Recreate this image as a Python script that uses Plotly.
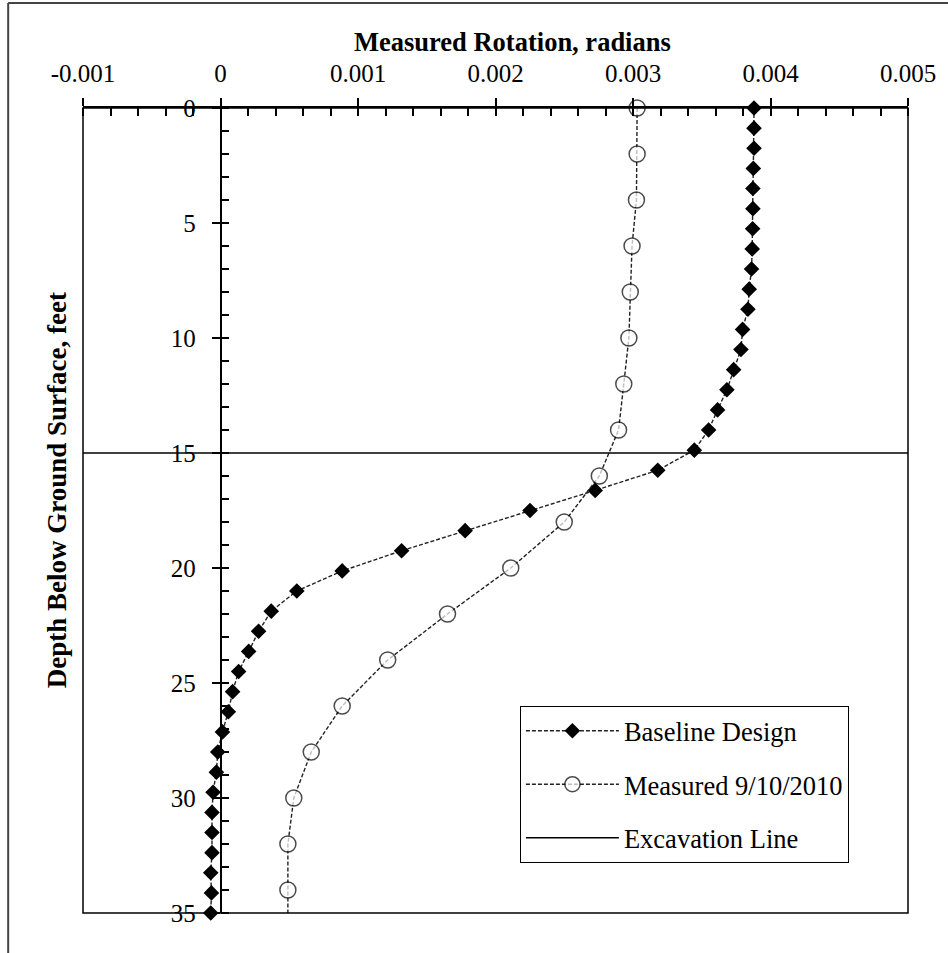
import plotly.graph_objects as go

# ---------------- data ----------------
baseline_depth = [0.0, 0.875, 1.75, 2.625, 3.5, 4.375, 5.25, 6.125, 7.0, 7.875,
                  8.75, 9.625, 10.5, 11.375, 12.25, 13.125, 14.0, 14.875, 15.75, 16.625,
                  17.5, 18.375, 19.25, 20.125, 21.0, 21.875, 22.75, 23.625, 24.5, 25.375,
                  26.25, 27.125, 28.0, 28.875, 29.75, 30.625, 31.5, 32.375, 33.25, 34.125, 35.0]
baseline_rotation = [0.00388, 0.00388, 0.00388, 0.003875, 0.003872, 0.003872, 0.00387, 0.003867,
                     0.003862, 0.003845, 0.003836, 0.003797, 0.003785, 0.003732, 0.003683,
                     0.003615, 0.00355, 0.003446, 0.00318, 0.002725, 0.002251, 0.001779,
                     0.001317, 0.000885, 0.000555, 0.000369, 0.000277, 0.000205, 0.000132,
                     0.000088, 0.000057, 0.000014, -0.00002, -0.00003, -0.000054, -0.000062,
                     -0.000062, -0.000062, -0.000071, -0.000066, -0.000071]

measured_depth = [0, 2, 4, 6, 8, 10, 12, 14, 16, 18, 20, 22, 24, 26, 28, 30, 32, 34, 36]
measured_rotation = [0.00303, 0.00303, 0.003025, 0.002993, 0.00298, 0.00297, 0.002933,
                     0.002895, 0.002755, 0.0025, 0.002111, 0.001651, 0.001216, 0.000885,
                     0.00066, 0.000533, 0.00049, 0.00049, 0.00049]

excavation_rotation = [-0.001, 0.005]
excavation_depth = [15, 15]

x_tick_vals = [-0.001, 0, 0.001, 0.002, 0.003, 0.004, 0.005]
x_tick_text = ["-0.001", "0", "0.001", "0.002", "0.003", "0.004", "0.005"]
y_tick_vals = [0, 5, 10, 15, 20, 25, 30, 35]
y_tick_text = ["0", "5", "10", "15", "20", "25", "30", "35"]

FONT = "Liberation Serif, Times New Roman, serif"

fig = go.Figure()

fig.add_trace(go.Scatter(
    x=baseline_rotation, y=baseline_depth, name="Baseline Design",
    mode="lines+markers", legendgroup="a", cliponaxis=False,
    line=dict(color="#222222", width=1.4, dash="4px,2px"),
    marker=dict(symbol="diamond", size=12, color="black", line=dict(width=0)),
))

msizes = [16] * (len(measured_depth) - 1) + [0]
fig.add_trace(go.Scatter(
    x=measured_rotation, y=measured_depth, name="Measured 9/10/2010",
    mode="lines+markers", legendgroup="b", cliponaxis=False,
    line=dict(color="#222222", width=1.4, dash="4px,2px"),
    marker=dict(symbol="circle", size=msizes, color="white",
                line=dict(color="black", width=1.5)),
))

fig.add_trace(go.Scatter(
    x=excavation_rotation, y=excavation_depth, name="Excavation Line",
    mode="lines", legendgroup="c",
    line=dict(color="black", width=1.5),
))

fig.update_layout(
    width=948, height=953,
    margin=dict(l=83, r=38, t=108, b=40),
    paper_bgcolor="white", plot_bgcolor="white",
    font=dict(family=FONT, size=25, color="black"),
    showlegend=True,
    legend=dict(
        x=0.5296, y=0.2571, xanchor="left", yanchor="top",
        bgcolor="white", bordercolor="black", borderwidth=1,
        font=dict(family=FONT, size=26.5, color="black"),
        traceorder="grouped", tracegroupgap=16, itemwidth=93,
    ),
    xaxis=dict(
        range=[-0.001, 0.005], side="top", anchor="y",
        tickmode="array", tickvals=x_tick_vals, ticktext=x_tick_text,
        showgrid=False, zeroline=False,
        showline=True, linecolor="black", linewidth=1.5,
        ticks="outside", ticklen=8, tickwidth=1.5, tickcolor="black",
        ticklabelstandoff=6,
        tickfont=dict(family=FONT, size=25, color="black"),
        minor=dict(dtick=0.0002, tick0=0, ticks="inside", ticklen=8,
                   tickwidth=1.5, tickcolor="black", showgrid=False),
    ),
    xaxis2=dict(
        range=[-0.001, 0.005], side="top", overlaying="x", anchor="y",
        tickmode="array", tickvals=x_tick_vals, showticklabels=False,
        showgrid=False, zeroline=False, showline=False,
        ticks="inside", ticklen=8, tickwidth=1.5, tickcolor="black",
    ),
    yaxis=dict(
        range=[35, 0], anchor="free", position=1/6,
        tickmode="array", tickvals=y_tick_vals, ticktext=y_tick_text,
        showgrid=False, zeroline=False,
        showline=True, linecolor="black", linewidth=1.5,
        ticks="outside", ticklen=8, tickwidth=1.5, tickcolor="black",
        ticklabelstandoff=11,
        tickfont=dict(family=FONT, size=25, color="black"),
        minor=dict(dtick=1, tick0=0, ticks="inside", ticklen=8,
                   tickwidth=1.5, tickcolor="black", showgrid=False),
    ),
    shapes=[
        dict(type="rect", xref="paper", yref="paper", x0=0, x1=1, y0=0, y1=1,
             line=dict(color="black", width=1.5), layer="above"),
        dict(type="line", xref="paper", yref="paper", x0=-0.0907, x1=1.05,
             y0=1.1304, y1=1.1304, line=dict(color="#444444", width=2)),
        dict(type="line", xref="paper", yref="paper", x0=-0.0907, x1=-0.0907,
             y0=1.1304, y1=-0.06, line=dict(color="#444444", width=2)),
    ],
    annotations=[
        dict(text="<b>Measured Rotation, radians</b>", xref="paper", yref="paper",
             x=0.521, y=1.082, xanchor="center", yanchor="middle", showarrow=False,
             font=dict(family=FONT, size=26.5, color="black")),
        dict(text="<b>Depth Below Ground Surface, feet</b>", xref="paper", yref="paper",
             x=-0.0318, y=0.5248, xanchor="center", yanchor="middle", showarrow=False,
             textangle=-90, font=dict(family=FONT, size=27, color="black")),
    ],
)

fig.write_html("out.html", config={"displayModeBar": False},
               post_script="document.body.style.margin='0';")
